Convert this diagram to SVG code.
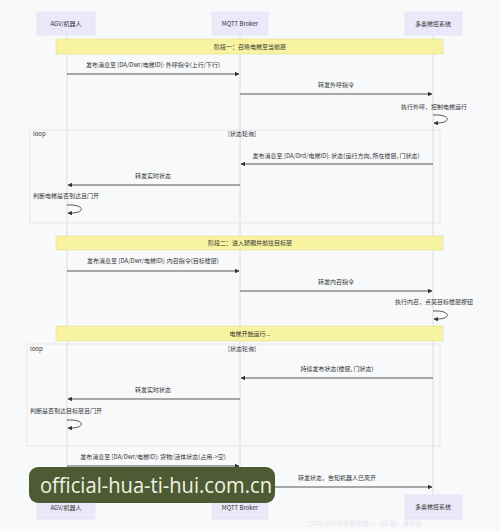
<svg xmlns="http://www.w3.org/2000/svg" width="500" height="531" viewBox="0 0 500 531">
<style>
.t{font-family:"Noto Sans CJK SC","Noto Sans",sans-serif;font-size:6px;fill:#333}
.c{text-anchor:middle}
.actor{fill:#ebe8fa;stroke:#e2def4;stroke-width:0.6}
.note{fill:#f7f3a0;stroke:#e4dd8a;stroke-width:0.6}
.life{stroke:#d6d6d6;stroke-width:0.8}
.msg{stroke:#444;stroke-width:0.9;fill:none}
.frame{fill:none;stroke:#e3e3e3;stroke-width:0.8}
</style>
<defs>
<marker id="ah" viewBox="0 0 10 10" refX="9" refY="5" markerWidth="5" markerHeight="5" orient="auto"><path d="M0,0L10,5L0,10z" fill="#333"/></marker>
</defs>
<rect width="500" height="531" fill="#f8f9fb"/>
<g id="lifelines">
<line class="life" x1="67" y1="35" x2="67" y2="496"/>
<line class="life" x1="240" y1="35" x2="240" y2="496"/>
<line class="life" x1="433" y1="35" x2="433" y2="496"/>
</g>
<g id="loop1"><rect class="frame" x="30" y="130" width="410" height="93"/><text class="t" x="33" y="136">loop</text><text class="t c" x="242" y="136">[状态轮询]</text></g>
<g id="loop2"><rect class="frame" x="27" y="344" width="413" height="102"/><text class="t" x="30" y="351">loop</text><text class="t c" x="242" y="351">[状态轮询]</text></g>
<g id="note1"><rect class="note" x="56" y="39" width="387" height="15"/><text class="t c" x="250" y="49">阶段一：召唤电梯至当前层</text></g>
<g id="note2"><rect class="note" x="56" y="236" width="387" height="14"/><text class="t c" x="250" y="245">阶段二：进入轿厢并前往目标层</text></g>
<g id="note3"><rect class="note" x="56" y="326" width="387" height="15"/><text class="t c" x="250" y="336">电梯开始运行...</text></g>
<g id="connectors">
<line class="msg" x1="67" y1="74" x2="239" y2="74" marker-end="url(#ah)"/>
<line class="msg" x1="240" y1="94" x2="432" y2="94" marker-end="url(#ah)"/>
<path class="msg" d="M433,115 C452,114 452,124 434,123" marker-end="url(#ah)"/>
<line class="msg" x1="433" y1="164" x2="241" y2="164" marker-end="url(#ah)"/>
<line class="msg" x1="240" y1="185" x2="68" y2="185" marker-end="url(#ah)"/>
<path class="msg" d="M67,205 C86,204 86,214 68,213" marker-end="url(#ah)"/>
<line class="msg" x1="67" y1="271" x2="239" y2="271" marker-end="url(#ah)"/>
<line class="msg" x1="240" y1="291" x2="432" y2="291" marker-end="url(#ah)"/>
<path class="msg" d="M433,311 C452,310 452,320 434,319" marker-end="url(#ah)"/>
<line class="msg" x1="433" y1="378" x2="241" y2="378" marker-end="url(#ah)"/>
<line class="msg" x1="240" y1="399" x2="68" y2="399" marker-end="url(#ah)"/>
<path class="msg" d="M67,420 C86,419 86,429 68,428" marker-end="url(#ah)"/>
<line class="msg" x1="67" y1="466" x2="239" y2="466" marker-end="url(#ah)"/>
<line class="msg" x1="240" y1="487" x2="432" y2="487" marker-end="url(#ah)"/>
</g>
<g id="labels">
<text class="t c" x="153" y="67">发布消息至 [DA/Dwr/电梯ID]: 外呼指令(上行/下行)</text>
<text class="t c" x="336" y="87">转发外呼指令</text>
<text class="t" x="467" y="109" text-anchor="end">执行外呼，控制电梯运行</text>
<text class="t c" x="336" y="158">发布消息至 [DA/Drd/电梯ID]: 状态(运行方向, 所在楼层, 门状态)</text>
<text class="t c" x="153" y="178">转发实时状态</text>
<text class="t" x="33" y="198">判断电梯是否到达且门开</text>
<text class="t c" x="153" y="263">发布消息至 [DA/Dwr/电梯ID]: 内召指令(目标楼层)</text>
<text class="t c" x="336" y="284">转发内召指令</text>
<text class="t" x="473" y="304" text-anchor="end">执行内召，点亮目标楼层按钮</text>
<text class="t c" x="337" y="371">持续发布状态(楼层, 门状态)</text>
<text class="t c" x="153" y="392">转发实时状态</text>
<text class="t" x="30" y="413">判断是否到达目标层且门开</text>
<text class="t c" x="153" y="459">发布消息至 [DA/Dwr/电梯ID]: 货物/活体状态(占用-&gt;空)</text>
<text class="t c" x="337" y="480">转发状态，告知机器人已离开</text>
</g>
<g id="agv-top"><rect class="actor" x="37" y="12" width="58" height="23"/><text class="t c" x="66" y="26">AGV/机器人</text></g>
<g id="mqtt-top"><rect class="actor" x="212" y="12" width="56" height="23"/><text class="t c" x="240" y="26">MQTT Broker</text></g>
<g id="elev-top"><rect class="actor" x="405" y="12" width="57" height="23"/><text class="t c" x="433" y="26">多奥梯控系统</text></g>
<g id="agv-bottom"><rect class="actor" x="37" y="496" width="58" height="23"/><text class="t c" x="66" y="510">AGV/机器人</text></g>
<g id="mqtt-bottom"><rect class="actor" x="212" y="496" width="56" height="23"/><text class="t c" x="240" y="510">MQTT Broker</text></g>
<g id="elev-bottom"><rect class="actor" x="405" y="495" width="57" height="24"/><text class="t c" x="433" y="509">多奥梯控系统</text></g>
<g id="watermark"><rect x="29" y="467" width="246" height="36" rx="9" fill="#4e5a34"/><text x="40" y="493" font-family="Open Sans, sans-serif" font-size="21" fill="#eef3e2" textLength="232" lengthAdjust="spacingAndGlyphs">official-hua-ti-hui.com.cn</text></g>
<text x="306" y="526" font-family="Noto Sans CJK SC, sans-serif" font-size="6.5" fill="#e6e6ea">CSDN @RFR多奥电梯一（和 筋）通讯协</text>
</svg>
